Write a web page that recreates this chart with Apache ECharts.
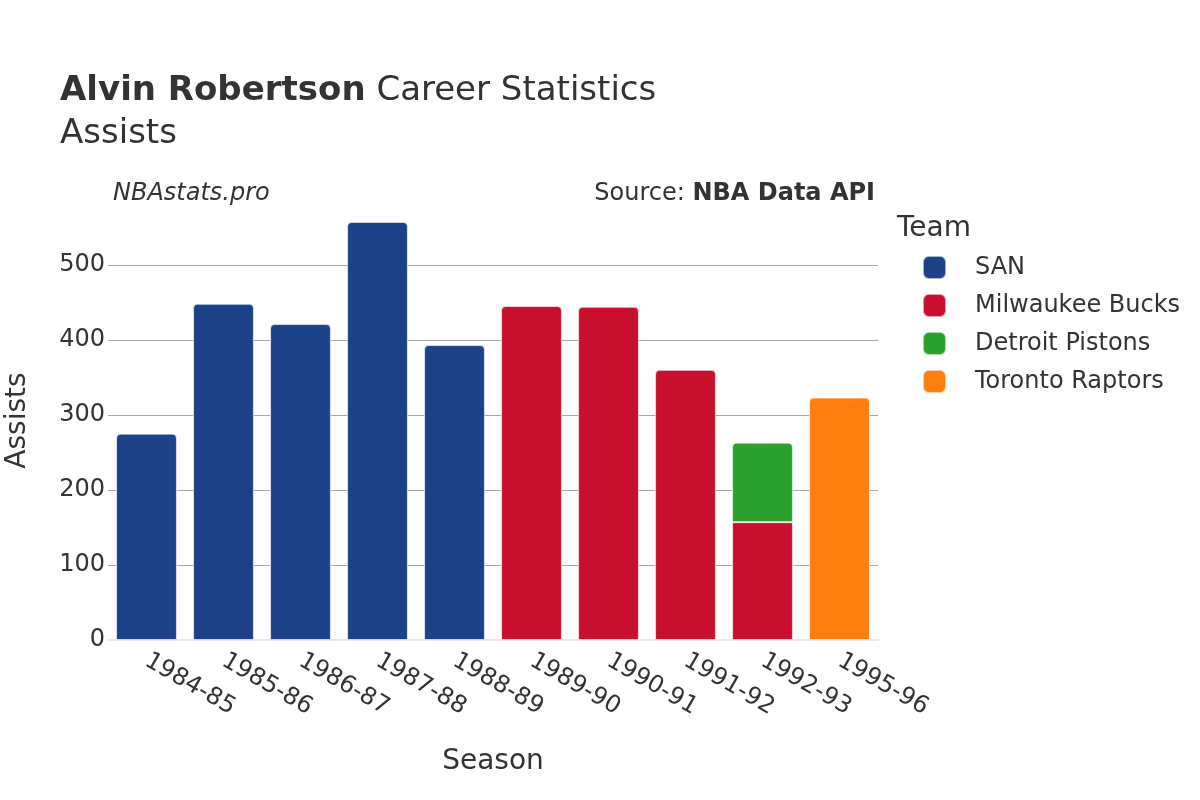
<!DOCTYPE html>
<html>
<head>
<meta charset="utf-8">
<script src="https://cdn.jsdelivr.net/npm/echarts@6/dist/echarts.min.js"></script>
<style>
  html, body { margin: 0; padding: 0; background: #fff; }
  #main { width: 1200px; height: 800px; }
</style>
</head>
<body>
<div id="main"></div>
<script>
// seasons on the x axis
var seasons = ["1984-85", "1985-86", "1986-87", "1987-88", "1988-89",
               "1989-90", "1990-91", "1991-92", "1992-93", "1995-96"];
// assists per team, null where he did not play for that team
var san       = [275, 448, 421, 557, 393, null, null, null, null, null];
var milwaukee = [null, null, null, null, null, 445, 444, 360, 157, null];
var detroit   = [null, null, null, null, null, null, null, null, 106, null];
var toronto   = [null, null, null, null, null, null, null, null, null, 323];
var yTicks = [0, 100, 200, 300, 400, 500];

var teams = [
  { name: "SAN", values: san, color: "#1d428a" },
  { name: "Milwaukee Bucks", values: milwaukee, color: "#c8102e" },
  { name: "Detroit Pistons", values: detroit, color: "#2ca02c" },
  { name: "Toronto Raptors", values: toronto, color: "#ff7f0e" }
];

var font = "DejaVu Sans";

// round only the top of the topmost segment in each column
function isTop(teamIdx, i) {
  for (var k = teamIdx + 1; k < teams.length; k++) {
    if (teams[k].values[i] != null) return false;
  }
  return true;
}

var series = teams.map(function (t, ti) {
  return {
    name: t.name,
    type: "bar",
    stack: "total",
    barCategoryGap: "21%",
    itemStyle: { color: t.color, borderColor: "rgba(255,255,255,0.6)", borderWidth: 1 },
    data: t.values.map(function (v, i) {
      if (v == null) return "-";
      return {
        value: v,
        itemStyle: { borderRadius: isTop(ti, i) ? [4, 4, 0, 0] : 0 }
      };
    })
  };
});

var chart = echarts.init(document.getElementById("main"));
chart.setOption({
  backgroundColor: "#fff",
  animation: false,
  textStyle: { fontFamily: font },
  title: [
    {
      text: "{b|Alvin Robertson} Career Statistics\nAssists",
      left: 60, top: 70, padding: 0,
      textStyle: {
        fontFamily: font, fontSize: 34, fontWeight: "normal", color: "#333",
        lineHeight: 43,
        rich: { b: { fontFamily: font, fontSize: 34, fontWeight: "bold", color: "#333", lineHeight: 43 } }
      }
    },
    {
      text: "NBAstats.pro",
      left: 113, top: 182, padding: 0,
      textStyle: { fontFamily: font, fontSize: 24, fontStyle: "italic", fontWeight: "normal", color: "#333" }
    },
    {
      text: "Source: {b|NBA Data API}",
      right: 325, top: 182, padding: 0,
      textStyle: {
        fontFamily: font, fontSize: 24, fontWeight: "normal", color: "#333",
        rich: { b: { fontFamily: font, fontSize: 24, fontWeight: "bold", color: "#333" } }
      }
    },
    {
      text: "Team",
      left: 897, top: 215, padding: 0,
      textStyle: { fontFamily: font, fontSize: 28, fontWeight: "normal", color: "#333" }
    }
  ],
  legend: {
    orient: "vertical",
    left: 922, top: 255, padding: 0,
    itemWidth: 23, itemHeight: 23, itemGap: 13,
    icon: "roundRect",
    textStyle: { fontFamily: font, fontSize: 24, color: "#333", lineHeight: 23, padding: [0, 0, 0, 24] },
    data: teams.map(function (t) { return t.name; })
  },
  grid: { left: 108, right: 322, top: 201, bottom: 160, containLabel: false, outerBoundsMode: "none" },
  xAxis: {
    type: "category",
    data: seasons,
    name: "Season",
    nameLocation: "middle",
    nameGap: 108,
    nameTextStyle: { fontFamily: font, fontSize: 28, color: "#333" },
    axisTick: { show: false },
    axisLine: { lineStyle: { color: "#ebebeb", width: 2 } },
    axisLabel: { rotate: -30, fontFamily: font, fontSize: 24, color: "#333", margin: 19 }
  },
  yAxis: {
    type: "value",
    min: 0, max: 585, interval: 100,
    name: "Assists",
    nameLocation: "middle",
    nameGap: 76,
    nameTextStyle: { fontFamily: font, fontSize: 28, color: "#333" },
    axisLine: { show: false },
    axisTick: { show: false },
    axisLabel: {
      fontFamily: font, fontSize: 24, color: "#333", margin: 3, showMaxLabel: false,
      formatter: function (v) { return yTicks.indexOf(v) >= 0 ? String(v) : ""; }
    },
    splitLine: { showMinLine: false, showMaxLine: false, lineStyle: { color: "#a8a8a8", width: 1 } }
  },
  series: series
});
</script>
</body>
</html>
